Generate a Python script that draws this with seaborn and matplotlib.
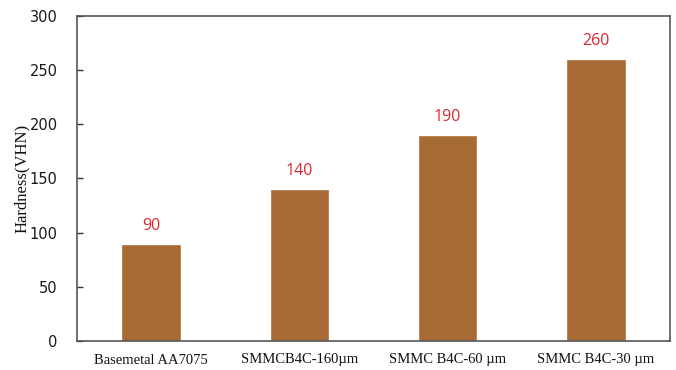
import matplotlib
matplotlib.use("Agg")
import matplotlib.pyplot as plt
import seaborn as sns
import pandas as pd

categories = ["Basemetal AA7075", "SMMCB4C-160\u00b5m", "SMMC B4C-60 \u00b5m", "SMMC B4C-30 \u00b5m"]
hardness = [90, 140, 190, 260]
y_ticks = [0, 50, 100, 150, 200, 250, 300]

df = pd.DataFrame({"cat": categories, "val": hardness})

sns.set_theme(style="white")
fig = plt.figure(figsize=(6.76, 3.70), dpi=100)
ax = fig.add_axes([77/676, 1 - 341/370, (670-77)/676, (341-16)/370])

sns.barplot(data=df, x="cat", y="val", color="#A66A33", saturation=1, width=0.4, ax=ax)

for p, v in zip(ax.patches, hardness):
    ax.text(p.get_x() + p.get_width()/2, v + 16.5, str(v), ha="center", va="center",
            color="#D8282F", fontsize=11.5, family="Open Sans")

ax.set_ylim(0, 300)
ax.set_xlim(-0.5, 3.5)
ax.set_yticks(y_ticks)
ax.set_yticklabels([str(t) for t in y_ticks], family="DejaVu Sans", fontsize=10.5, color="#1a1a1a")
ax.set_xticks(range(len(categories)))
ax.set_xticklabels(categories, family="Liberation Serif", fontsize=10.5, color="#111111")
ax.set_xticks([0.5, 1.5, 2.5], minor=True)
ax.tick_params(axis="x", which="major", length=0, pad=9)
ax.tick_params(axis="x", which="minor", direction="in", length=4, width=1, color="#333333")
ax.tick_params(axis="y", direction="in", length=4, width=1, color="#333333", left=True, pad=14)
ax.set_xlabel("")
ax.set_ylabel("Hardness(VHN)", family="Liberation Serif", fontsize=12, labelpad=0, color="#111111")
for s in ax.spines.values():
    s.set_visible(True)
    s.set_color("#555555")
    s.set_linewidth(1.2)

fig.savefig("out.png", dpi=100)
